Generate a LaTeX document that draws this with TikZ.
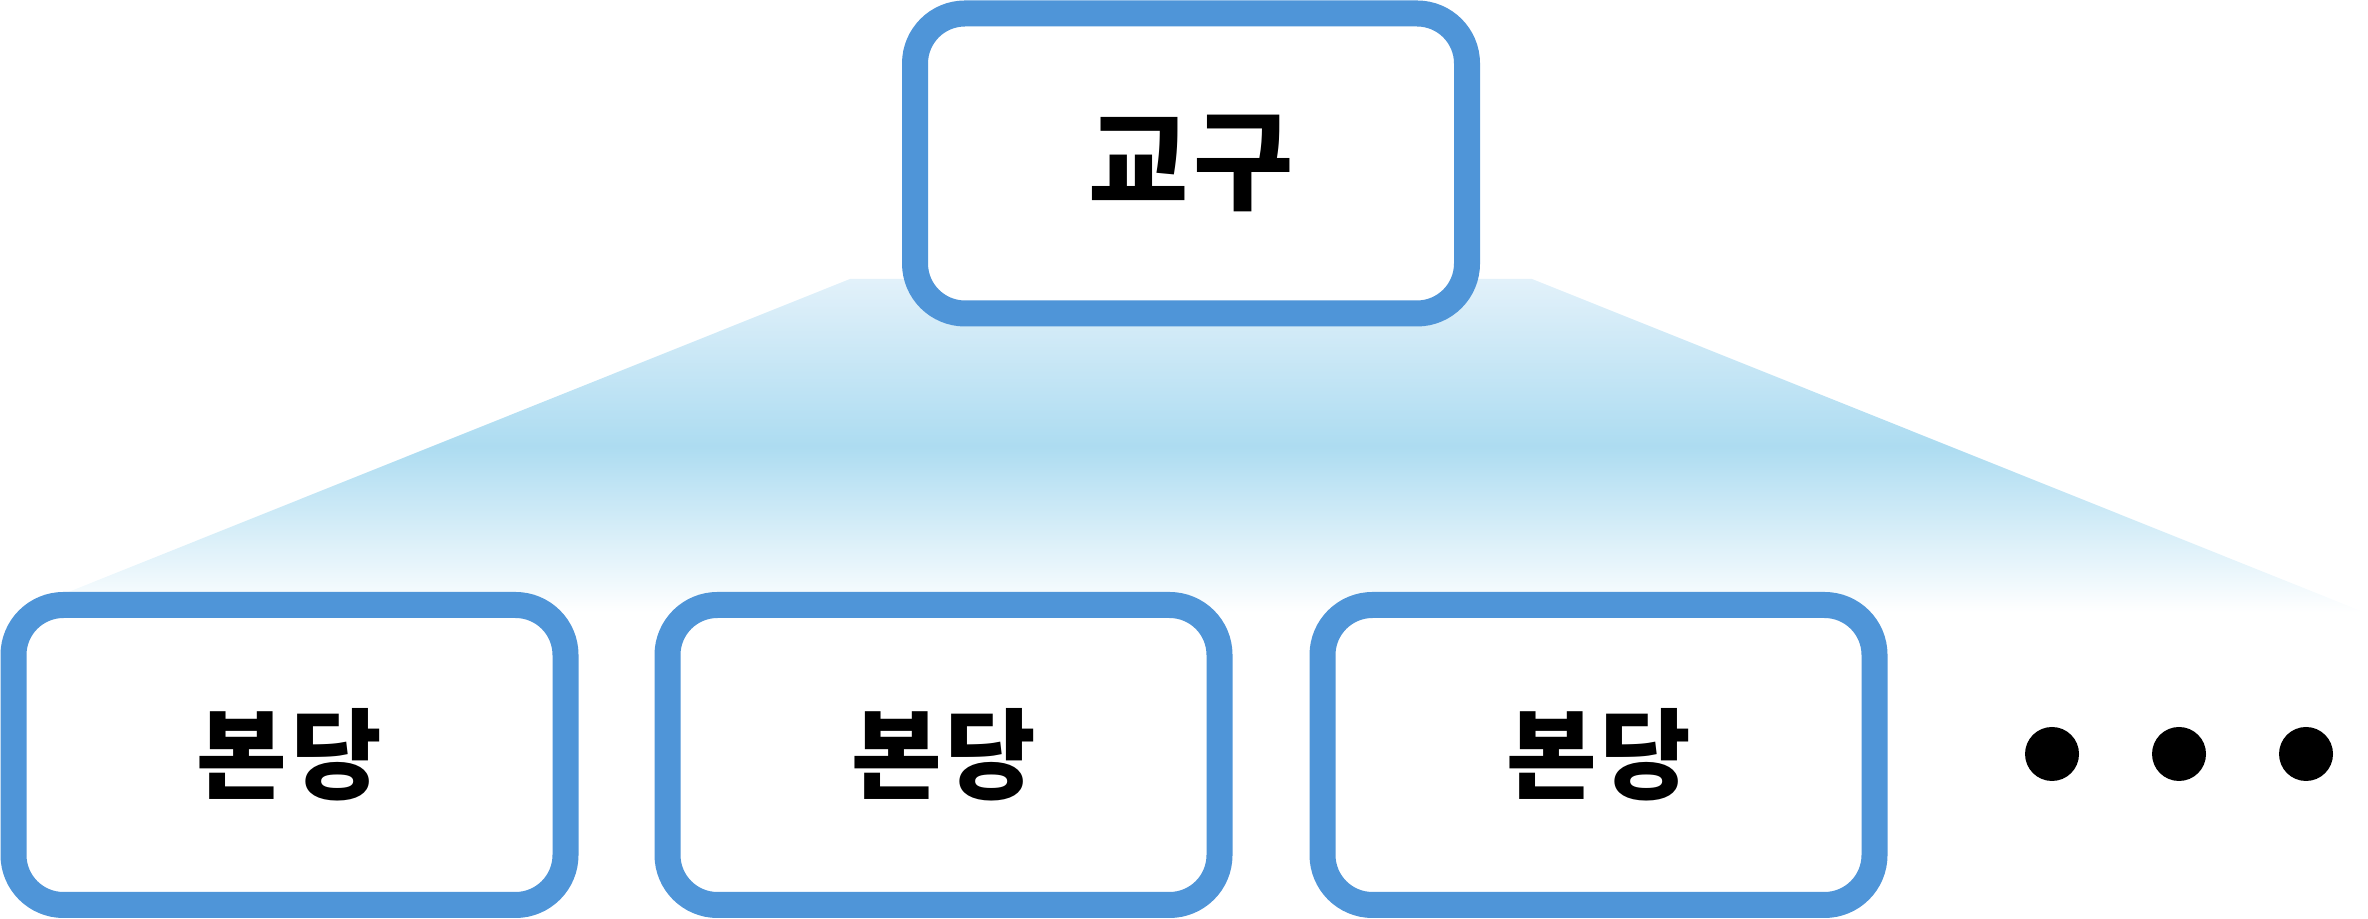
\documentclass[tikz,border=0pt]{standalone}
\usepackage{fontspec}
\newfontfamily\kofont[LetterSpace=4]{Noto Sans CJK KR}
\usetikzlibrary{shapes,calc,positioning}
\definecolor{boxblue}{HTML}{4F95D8}
\definecolor{fanmid}{HTML}{ADDCF1}
\definecolor{fantop}{HTML}{E2F1FA}
\tikzset{
	unit/.style={rectangle,draw=boxblue,fill=white,line width=0.26cm,rounded corners=0.5cm,minimum width=5.52cm,minimum height=3.0cm,font=\kofont\bfseries\fontsize{28}{34}\selectfont},
	topunit/.style={unit,font=\kofont\bfseries\fontsize{31}{37}\selectfont},
	dotnode/.style={circle,fill=black,inner sep=0,minimum size=0.54cm},
	fan/.style={top color=fantop,bottom color=white,middle color=fanmid}
}
\begin{document}
\begin{tikzpicture}
	\useasboundingbox (0,0) rectangle (23.68,9.19);
	%%%fan
	\shade[fan] (8.50,6.40) -- (15.32,6.40) -- (23.66,3.06) -- (0.16,3.06) -- cycle;
	%%%units
	\node[topunit] (g) at (11.91,7.555) {교구};
	\node[unit] (b1) at (2.895,1.64) {본당};
	\node[unit] (b2) at (9.435,1.64) {본당};
	\node[unit] (b3) at (15.985,1.64) {본당};
	\node[dotnode] (d1) at (20.52,1.65) {};
	\node[dotnode] (d2) at (21.79,1.65) {};
	\node[dotnode] (d3) at (23.06,1.65) {};
\end{tikzpicture}
\end{document}
